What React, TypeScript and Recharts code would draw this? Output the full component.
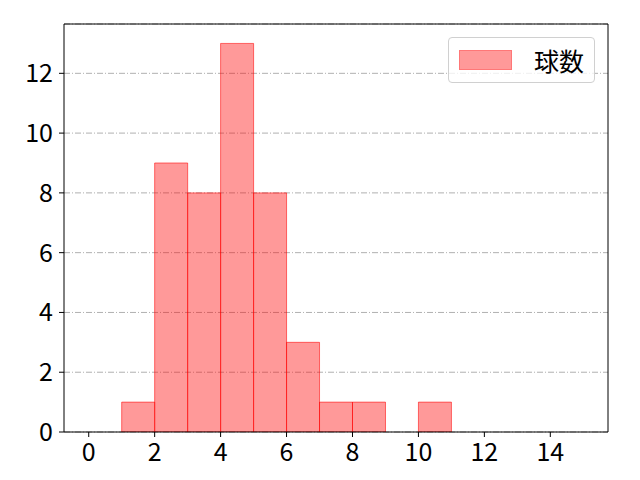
import { ComposedChart, Bar, XAxis, YAxis, CartesianGrid, ReferenceLine } from "recharts";

const BIN_CENTERS = [0.5, 1.5, 2.5, 3.5, 4.5, 5.5, 6.5, 7.5, 8.5, 9.5, 10.5, 11.5, 12.5, 13.5, 14.5];
const COUNTS = [0, 1, 9, 8, 13, 8, 3, 1, 1, 0, 1, 0, 0, 0, 0];
const X_TICKS = [0, 2, 4, 6, 8, 10, 12, 14];
const Y_TICKS = [0, 2, 4, 6, 8, 10, 12];
const SERIES_NAME = "球数";

const data = BIN_CENTERS.map((x, i) => ({ x, count: COUNTS[i] }));

const FONT = "'Noto Sans CJK JP', 'Noto Sans', sans-serif";
const TICK_FONT_SIZE = 25;

function XTick(props: any) {
  const { x, y, payload } = props;
  return (
    <text x={x} y={y + 22} textAnchor="middle" fill="#000" fontSize={TICK_FONT_SIZE} fontFamily={FONT}>
      {payload.value}
    </text>
  );
}

function YTick(props: any) {
  const { x, y, payload } = props;
  return (
    <text x={x} y={y + 9} textAnchor="end" fill="#000" fontSize={TICK_FONT_SIZE} fontFamily={FONT}>
      {payload.value}
    </text>
  );
}

function LegendBox() {
  return (
    <div
      style={{
        position: "absolute",
        left: 448,
        top: 37,
        width: 147,
        height: 46,
        border: "1px solid #d0d0d0",
        borderRadius: 4,
        background: "rgba(255,255,255,0.8)",
        display: "flex",
        alignItems: "center",
        boxSizing: "border-box",
        fontFamily: FONT,
      }}
    >
      <span
        style={{
          display: "inline-block",
          width: 53,
          height: 20,
          marginLeft: 10,
          background: "#ff9999",
          border: "1px solid #ff7777",
          boxSizing: "border-box",
        }}
      />
      <span style={{ marginLeft: 22, fontSize: 25, color: "#000", lineHeight: "25px" }}>{SERIES_NAME}</span>
    </div>
  );
}

export default function App() {
  return (
    <div style={{ position: "absolute", left: 0, top: 0, width: 640, height: 480, background: "#fff" }}>
      <ComposedChart
        width={640}
        height={480}
        data={data}
        margin={{ top: 24, right: 32, left: 0, bottom: 0 }}
        barCategoryGap={0}
        barGap={0}
      >
        <CartesianGrid vertical={false} stroke="#b0b0b0" strokeDasharray="6 2 1 2" />
        <XAxis
          dataKey="x"
          type="number"
          domain={[-0.75, 15.75]}
          ticks={X_TICKS}
          interval={0}
          height={48}
          stroke="#000"
          tickSize={5}
          tickMargin={2}
          tick={<XTick />}
          allowDataOverflow
        />
        <YAxis
          type="number"
          domain={[0, 13.65]}
          ticks={Y_TICKS}
          interval={0}
          width={64}
          stroke="#000"
          tickSize={5}
          tickMargin={6}
          tick={<YTick />}
          allowDataOverflow
        />
        <ReferenceLine y={13.65} stroke="#000" strokeWidth={1} />
        <ReferenceLine x={15.75} stroke="#000" strokeWidth={1} />
        <Bar
          dataKey="count"
          name={SERIES_NAME}
          fill="#ff0000"
          fillOpacity={0.4}
          stroke="#ff0000"
          strokeOpacity={0.55}
          strokeWidth={1}
          isAnimationActive={false}
        />
      </ComposedChart>
      <LegendBox />
    </div>
  );
}
